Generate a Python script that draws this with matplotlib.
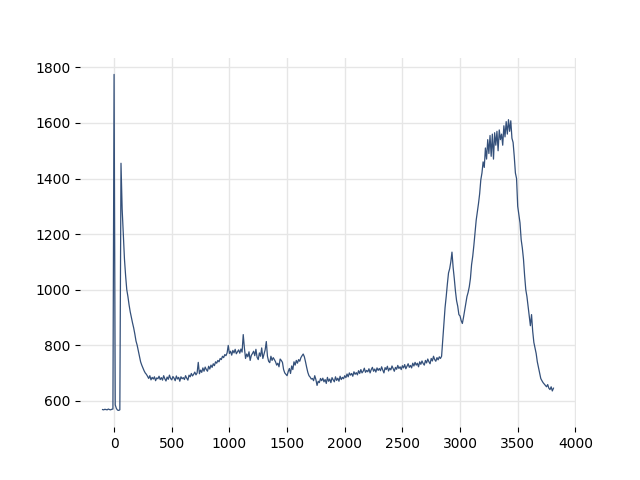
import numpy as np
import matplotlib
matplotlib.use('Agg')
import matplotlib.pyplot as plt

# sample positions (step of 10 from -100 to 3810)
x_start = -100
x_step = 10

# signal values, one row per 100 units of x
signal = [
    568, 567, 569, 568, 567, 570, 568, 567, 569, 570,          # -100
    1775, 585, 572, 566, 565, 567, 1455, 1290, 1200, 1110,     # 0
    1050, 1000, 975, 945, 920, 900, 880, 862, 840, 815,        # 100
    800, 780, 760, 740, 728, 718, 708, 700, 695, 688,          # 200
    680, 690, 675, 684, 678, 686, 672, 682, 679, 688,          # 300
    676, 683, 674, 690, 679, 671, 685, 677, 692, 680,          # 400
    675, 687, 681, 672, 689, 678, 684, 670, 686, 679,          # 500
    683, 676, 690, 681, 674, 692, 686, 698, 689, 695,          # 600
    703, 693, 700, 738, 697, 710, 702, 718, 706, 721,          # 700
    712, 706, 724, 714, 728, 720, 733, 726, 740, 735,          # 800
    745, 740, 752, 748, 760, 755, 766, 762, 772, 799,          # 900
    770, 778, 764, 781, 772, 785, 769, 776, 783, 771,          # 1000
    786, 775, 838, 790, 752, 768, 758, 776, 745, 763,          # 1100
    770, 778, 762, 785, 756, 748, 772, 760, 790, 752,          # 1200
    768, 783, 813, 760, 742, 737, 760, 745, 755, 748,          # 1300
    740, 728, 735, 722, 750, 745, 738, 712, 700, 695,          # 1400
    690, 705, 716, 698, 725, 712, 740, 728, 745, 735,          # 1500
    748, 742, 755, 762, 768, 758, 740, 720, 702, 690,          # 1600
    685, 678, 680, 672, 690, 676, 655, 670, 665, 680,          # 1700
    672, 681, 668, 676, 662, 684, 670, 678, 665, 683,          # 1800
    675, 668, 686, 673, 681, 670, 688, 676, 684, 679,          # 1900
    690, 683, 696, 686, 700, 692, 698, 688, 704, 695,          # 2000
    701, 693, 708, 698, 712, 700, 706, 717, 702, 709,          # 2100
    704, 715, 700, 712, 720, 706, 714, 703, 718, 709,          # 2200
    716, 708, 722, 710, 700, 719, 712, 724, 707, 717,          # 2300
    711, 725, 715, 706, 720, 713, 727, 716, 722, 712,          # 2400
    726, 718, 730, 715, 724, 733, 720, 727, 718, 735,          # 2500
    725, 738, 728, 735, 722, 740, 731, 743, 734, 728,          # 2600
    745, 736, 750, 740, 733, 752, 743, 760, 748, 742,          # 2700
    755, 747, 758, 752, 760, 820, 880, 935, 975, 1020,         # 2800
    1060, 1075, 1100, 1135, 1080, 1040, 995, 960, 940, 910,    # 2900
    905, 888, 878, 900, 925, 950, 975, 990, 1010, 1040,        # 3000
    1090, 1120, 1160, 1205, 1250, 1280, 1310, 1345, 1395, 1420,  # 3100
    1460, 1440, 1510, 1470, 1540, 1490, 1555, 1480, 1560, 1470,  # 3200
    1565, 1520, 1570, 1500, 1575, 1540, 1560, 1520, 1590, 1550,  # 3300
    1605, 1560, 1612, 1570, 1608, 1545, 1530, 1480, 1420, 1400,  # 3400
    1300, 1270, 1240, 1180, 1150, 1110, 1050, 1000, 975, 940,    # 3500
    905, 870, 910, 850, 810, 790, 770, 740, 720, 700,          # 3600
    680, 672, 665, 660, 655, 650, 658, 645, 640, 650,          # 3700
    635, 645,                                                  # 3800
]

x_vals = x_start + x_step * np.arange(len(signal))

line_color = '#34507a'

fig, ax = plt.subplots(figsize=(6.4, 4.8), dpi=100)

ax.plot(x_vals, signal, color=line_color, linewidth=0.9)

ax.grid(True, color='#e6e6e6', linewidth=1)
ax.set_axisbelow(True)
for s in ax.spines.values():
    s.set_visible(False)

ax.set_xticks([0, 500, 1000, 1500, 2000, 2500, 3000, 3500, 4000])
ax.set_yticks([600, 800, 1000, 1200, 1400, 1600, 1800])

plt.savefig('out.png', dpi=100)
